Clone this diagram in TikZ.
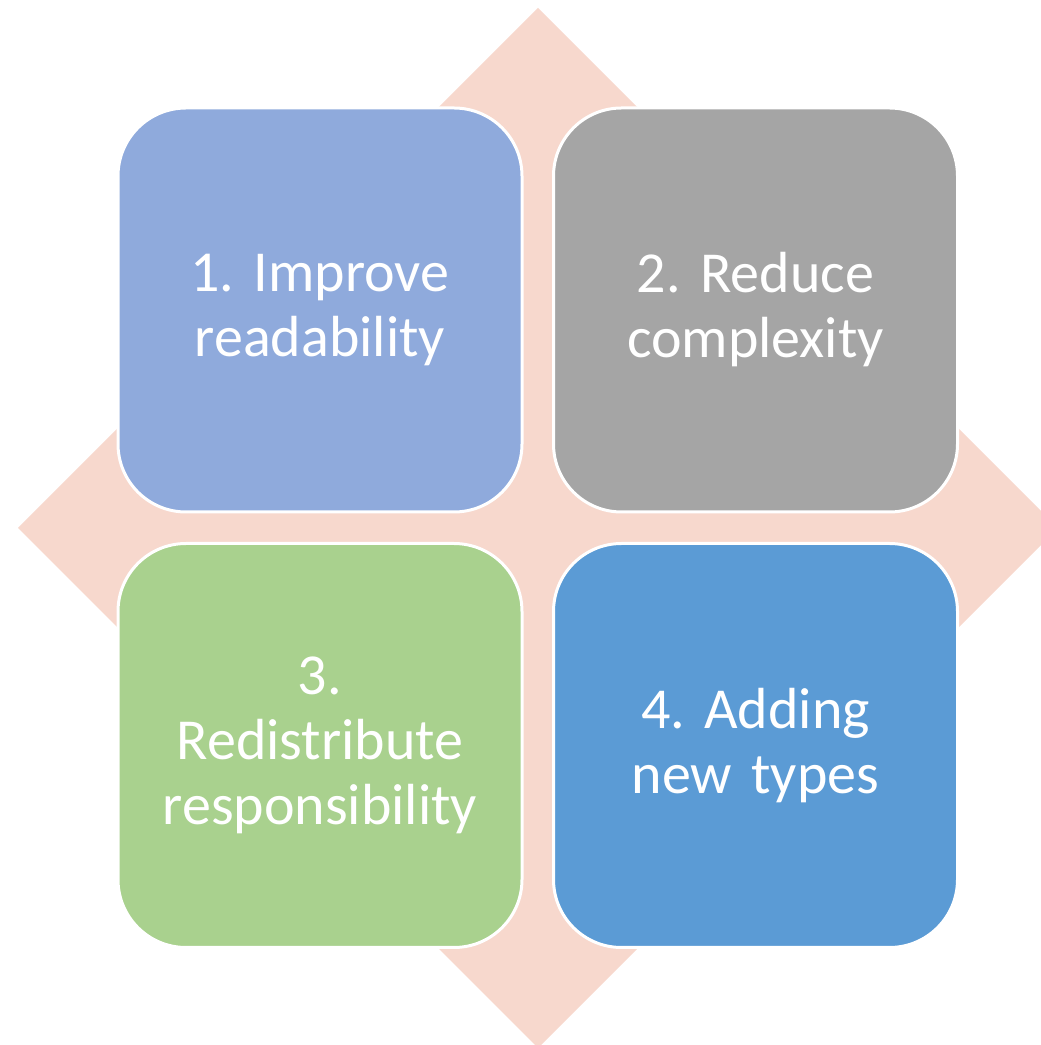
\documentclass[tikz,border=0pt]{standalone}
\usepackage{fontspec}
\setmainfont{Carlito}
\usepackage{tikz}
\usetikzlibrary{positioning}
\frenchspacing
\tikzstyle{tile}=[draw=white,line width=3pt,rectangle,rounded corners=68pt,minimum size=404pt,inner sep=0pt,text=white,align=center,text width=380pt,font=\fontsize{58}{65}\selectfont]
\definecolor{mypink}{RGB}{247,216,205}
\definecolor{tileblue}{RGB}{143,170,220}
\definecolor{tilegray}{RGB}{165,165,165}
\definecolor{tilegreen}{RGB}{169,209,142}
\definecolor{tiledeep}{RGB}{91,155,213}

\begin{document}
\begin{tikzpicture}[x=1pt,y=1pt]
\useasboundingbox (0,0) rectangle (1041,1045);
\clip (0,0) rectangle (1041,1045);
\fill[mypink] (18,517) -- (538,1037) -- (1058,517) -- (538,-3) -- cycle;
\draw (320,735) node [tile,fill=tileblue] (t1) {1. Improve\\readability};
\draw (755.5,735) node [tile,fill=tilegray] (t2) {2. Reduce\\complexity};
\draw (320,299.5) node [tile,fill=tilegreen] (t3) {3.\\Redistribute\\responsibility};
\draw (755.5,299.5) node [tile,fill=tiledeep] (t4) {4. Adding\\new types};
\end{tikzpicture}
\end{document}
